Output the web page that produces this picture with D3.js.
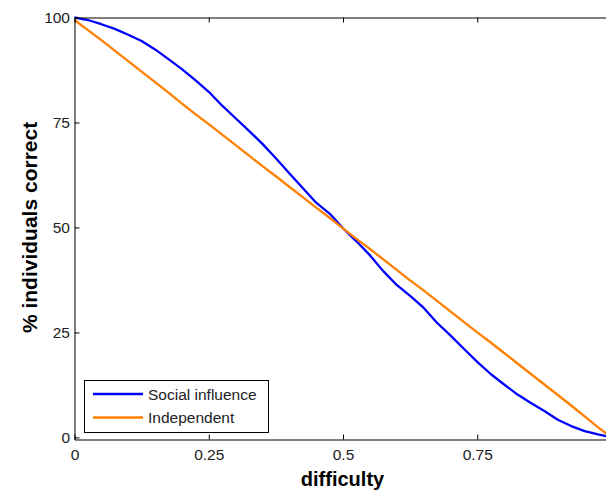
<!DOCTYPE html>
<html>
<head>
<meta charset="utf-8">
<script src="https://cdn.jsdelivr.net/npm/d3@7"></script>
<style>
  html, body { margin: 0; padding: 0; background: #fff; }
  svg { display: block; }
  text { font-family: "Liberation Sans", Arial, Helvetica, sans-serif; }
</style>
</head>
<body>
<svg id="chart" width="606" height="492"></svg>
<script>
// ---- data ----
const difficulty = [0, 0.025, 0.05, 0.075, 0.1, 0.125, 0.15, 0.175, 0.2, 0.225,
  0.25, 0.275, 0.3, 0.325, 0.35, 0.375, 0.4, 0.425, 0.45, 0.475,
  0.5, 0.525, 0.55, 0.575, 0.6, 0.625, 0.65, 0.675, 0.7, 0.725,
  0.75, 0.775, 0.8, 0.825, 0.85, 0.875, 0.9, 0.925, 0.95, 0.975, 1.0];

const socialInfluence = [100, 99.4, 98.4, 97.3, 95.9, 94.4, 92.4, 90.1, 87.7, 85.1,
  82.3, 79.0, 76.0, 73.0, 69.9, 66.5, 62.9, 59.4, 55.9, 53.3,
  49.8, 46.7, 43.4, 39.6, 36.3, 33.7, 30.9, 27.3, 24.3, 21.1,
  18.0, 15.1, 12.6, 10.2, 8.2, 6.3, 4.2, 2.7, 1.5, 0.7, 0.0];

const independent = [99.4, 97.0, 94.6, 92.1, 89.6, 87.1, 84.6, 82.1, 79.5, 77.0,
  74.6, 72.1, 69.6, 67.1, 64.6, 62.2, 59.7, 57.2, 54.7, 52.3,
  49.8, 47.3, 44.9, 42.4, 39.9, 37.4, 35.0, 32.5, 30.0, 27.5,
  25.0, 22.6, 20.1, 17.6, 15.1, 12.6, 10.1, 7.6, 5.0, 2.4, 0.0];

const xTicks = [0, 0.25, 0.5, 0.75];
const xTickLabels = ["0", "0.25", "0.5", "0.75"];
const yTicks = [0, 25, 50, 75, 100];
const yTickLabels = ["0", "25", "50", "75", "100"];

const seriesNames = ["Social influence", "Independent"];
const seriesColors = ["#0000ff", "#ff8000"];

// ---- layout ----
const svg = d3.select("#chart");
const plotLeft = 74.5, plotRight = 611.5, plotTop = 17.5, plotBottom = 439.5;

const x = d3.scaleLinear().domain([0, 1]).range([plotLeft, plotRight]);
const y = d3.scaleLinear().domain([-0.5, 100]).range([plotBottom, plotTop]);

const fontTick = "15.5px";

// plot lines
const series = [socialInfluence, independent];
const line = d3.line()
  .x((d, i) => x(difficulty[i]))
  .y(d => y(d));

series.forEach((s, k) => {
  svg.append("path")
    .datum(s)
    .attr("fill", "none")
    .attr("stroke", seriesColors[k])
    .attr("stroke-width", 2.3)
    .attr("stroke-linejoin", "round")
    .attr("d", line);
});

// axes
const axB = d3.axisBottom(x).tickValues(xTicks)
  .tickFormat((d, i) => xTickLabels[i]).tickSizeInner(-5).tickSizeOuter(0).tickPadding(9.5);
const axL = d3.axisLeft(y).tickValues(yTicks)
  .tickFormat((d, i) => yTickLabels[i]).tickSizeInner(-5).tickSizeOuter(0).tickPadding(4.5);
const axT = d3.axisTop(x).tickValues(xTicks).tickFormat("").tickSizeInner(-5).tickSizeOuter(0);
const axR = d3.axisRight(y).tickValues(yTicks).tickFormat("").tickSizeInner(-5).tickSizeOuter(0);

function style(g) {
  g.select(".domain").attr("stroke", "#000").attr("stroke-width", 1);
  g.selectAll(".tick line").attr("stroke", "#000").attr("stroke-width", 1);
  g.selectAll(".tick text").attr("fill", "#222")
    .style("font-size", fontTick)
    .style("font-family", "'Liberation Sans', Arial, sans-serif");
}

svg.append("g").attr("transform", `translate(0,${plotBottom})`).call(axB).call(style);
svg.append("g").attr("transform", `translate(${plotLeft},0)`).call(axL).call(style);
svg.append("g").attr("transform", `translate(0,${plotTop})`).call(axT).call(style);
svg.append("g").attr("transform", `translate(${plotRight},0)`).call(axR).call(style);

// axis titles
svg.append("text")
  .attr("x", (x(0) + x(1)) / 2 - 0.5)
  .attr("y", 486)
  .attr("text-anchor", "middle")
  .style("font-size", "20px")
  .style("font-weight", "bold")
  .attr("fill", "#000")
  .text("difficulty");

svg.append("text")
  .attr("transform", `translate(37,${(y(0) + y(100)) / 2}) rotate(-90)`)
  .attr("text-anchor", "middle")
  .style("font-size", "21px")
  .style("font-weight", "bold")
  .attr("fill", "#000")
  .text("% individuals correct");

// legend
const lg = svg.append("g");
lg.append("rect")
  .attr("x", 84.5).attr("y", 380.5).attr("width", 184).attr("height", 52)
  .attr("fill", "#fff").attr("stroke", "#000").attr("stroke-width", 1);
const legendY = [394, 417.5];
seriesNames.forEach((name, k) => {
  lg.append("line")
    .attr("x1", 93).attr("x2", 143)
    .attr("y1", legendY[k]).attr("y2", legendY[k])
    .attr("stroke", seriesColors[k]).attr("stroke-width", 2.3);
  lg.append("text")
    .attr("x", 148).attr("y", legendY[k] + 5.5)
    .style("font-size", fontTick)
    .attr("fill", "#222")
    .text(name);
});
</script>
</body>
</html>
